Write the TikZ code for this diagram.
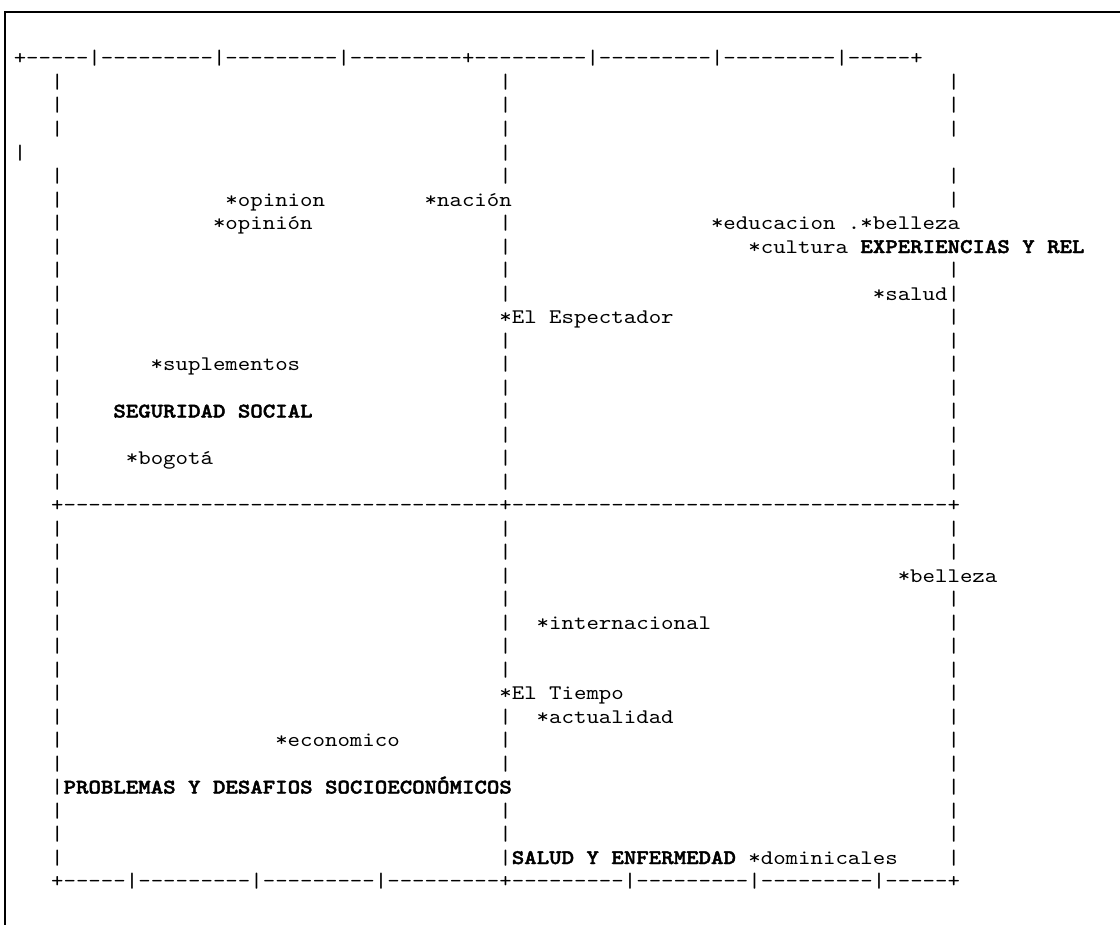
\documentclass[tikz,border=0pt]{standalone}
\usepackage{fontspec}
\setmonofont{lmmono10-regular.otf}[FakeStretch=1.1429]
\newfontfamily\boldmono{lmmonolt10-bold.otf}[FakeStretch=1.1429,FakeBold=2]
\tikzset{
  txt/.style={font=\ttfamily\fontsize{15.5625pt}{17.6pt}\selectfont,
              anchor=base west,inner sep=0pt,outer sep=0pt},
  hdr/.style={txt,font=\boldmono\fontsize{15.5625pt}{17.6pt}\selectfont},
  frame/.style={line width=1.5pt}
}

\begin{document}
\begin{tikzpicture}[x=9.3375pt,y=-17.625pt]
  \useasboundingbox (-1.108,-2.766) rectangle (88.85,36.6);
  \draw[frame] (88.85,-2.255) -- (-0.707,-2.255) -- (-0.707,36.6);
  % axes
  \node[txt] (top) at (0,0) {+-----|---------|---------|---------+---------|---------|---------|-----+};
  \node[txt] (mid) at (3,19) {+-----------------------------------+-----------------------------------+};
  \node[txt] (bot) at (3,35) {+-----|---------|---------|---------+---------|---------|---------|-----+};
  % bars
  \foreach \r in {1,2,3,5,6,...,18,20,21,...,34} \node[txt] (l\r) at (3,\r) {|};
  \foreach \r in {1,2,...,5,7,8,9,10,12,13,...,18,20,21,...,26,28,29,30,32,33,34} \node[txt] (m\r) at (39,\r) {|};
  \foreach \r in {1,2,3,5,6,9,10,...,18,20,21,23,24,...,34} \node[txt] (r\r) at (75,\r) {|};
  \node[txt] (stray) at (0,4) {|};
  % terms
  \node[txt] (opinion) at (17,6) {*opinion};
  \node[txt] (nacion) at (33,6) {*nación};
  \node[txt] (opinion2) at (16,7) {*opinión};
  \node[txt] (educacion) at (56,7) {*educacion .*belleza};
  \node[txt] (cultura) at (59,8) {*cultura};
  \node[hdr] (experiencias) at (68,8) {EXPERIENCIAS Y REL};
  \node[txt] (salud) at (69,10) {*salud};
  \node[txt] (espectador) at (39,11) {*El Espectador};
  \node[txt] (suplementos) at (11,13) {*suplementos};
  \node[hdr] (seguridad) at (8,15) {SEGURIDAD SOCIAL};
  \node[txt] (bogota) at (9,17) {*bogotá};
  \node[txt] (belleza) at (71,22) {*belleza};
  \node[txt] (internacional) at (42,24) {*internacional};
  \node[txt] (tiempo) at (39,27) {*El Tiempo};
  \node[txt] (actualidad) at (42,28) {*actualidad};
  \node[txt] (economico) at (21,29) {*economico};
  \node[hdr] (problemas) at (4,31) {PROBLEMAS Y DESAFIOS SOCIOECONÓMICOS};
  \node[hdr] (saludenf) at (40,34) {SALUD Y ENFERMEDAD};
  \node[txt] (dominicales) at (59,34) {*dominicales};
\end{tikzpicture}
\end{document}
